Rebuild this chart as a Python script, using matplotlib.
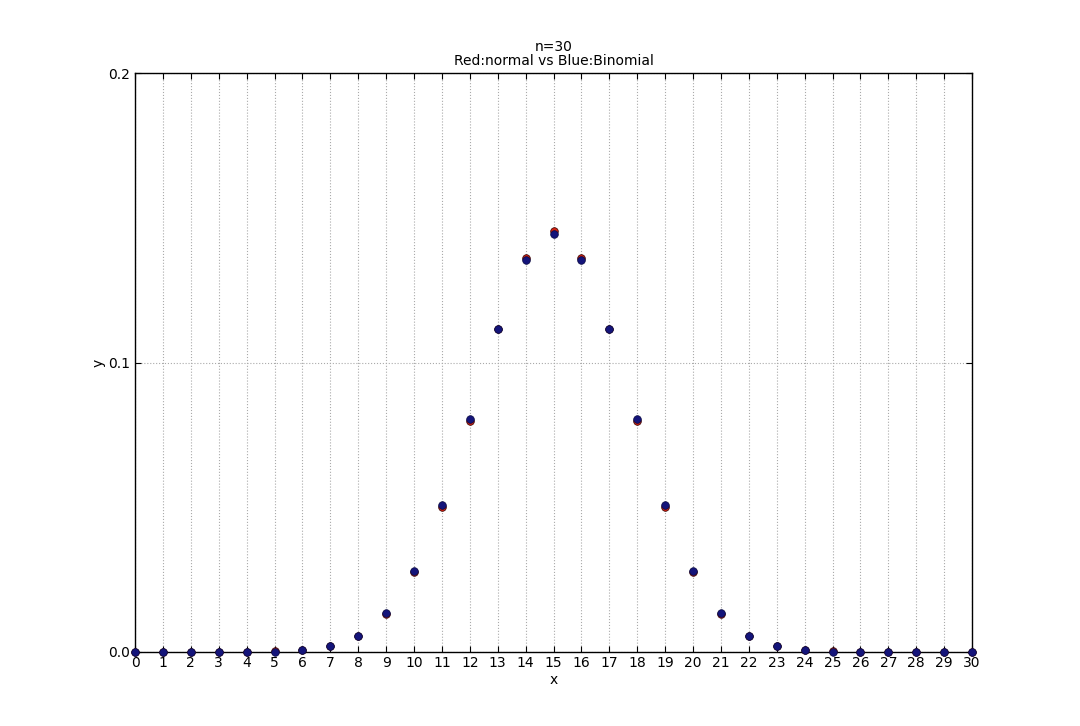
import matplotlib.pyplot as plt
import numpy as np

x = list(range(31))

# Blue: binomial pmf, n=30, p=0.5
binomial = [0.0, 0.0, 0.0000004, 0.0000038, 0.0000255, 0.000133, 0.000553,
            0.001896, 0.005451, 0.013325, 0.027982, 0.050876, 0.080553,
            0.111535, 0.135435, 0.144464, 0.135435, 0.111535, 0.080553,
            0.050876, 0.027982, 0.013325, 0.005451, 0.001896, 0.000553,
            0.000133, 0.0000255, 0.0000038, 0.0000004, 0.0, 0.0]

# Red: normal approximation
normal = [0.0, 0.0000003, 0.0000019, 0.0000099, 0.000046, 0.000185, 0.000658,
          0.002044, 0.005555, 0.01322, 0.02751, 0.05013, 0.07995, 0.11157,
          0.13628, 0.14567, 0.13628, 0.11157, 0.07995, 0.05013, 0.02751,
          0.01322, 0.005555, 0.002044, 0.000658, 0.000185, 0.000046,
          0.0000099, 0.0000019, 0.0000003, 0.0]

fig = plt.figure(figsize=(10.8, 7.26), dpi=100)
ax = fig.add_axes([0.125, 0.102, 0.775, 0.797])

ax.plot(x, normal, "o", color="#d02010", markeredgecolor="#300000",
        markeredgewidth=0.5, markersize=5.5, clip_on=False, zorder=3)
ax.plot(x, binomial, "o", color="#14147a", markeredgecolor="#0a0a40",
        markeredgewidth=0.5, markersize=5.5, clip_on=False, zorder=4)

ax.set_xlim(0, 30)
ax.set_ylim(0, 0.2)
ax.set_xticks(x)
ax.set_yticks([0.0, 0.1, 0.2])
ax.set_yticklabels(["0.0", "0.1", "0.2"])
ax.tick_params(direction="in", top=True, right=True, length=4, labelsize=10)
ax.tick_params(axis="x", pad=3)
ax.grid(True, linestyle=":", color="#aaaaaa", linewidth=0.8)

for s in ax.spines.values():
    s.set_linewidth(1.0)

ax.set_title("n=30\nRed:normal vs Blue:Binomial", fontsize=10, linespacing=1.0)
ax.set_xlabel("x", fontsize=10, labelpad=2)
ax.set_ylabel("y", fontsize=10, labelpad=2)

plt.savefig("out.png", dpi=100)
plt.close(fig)
